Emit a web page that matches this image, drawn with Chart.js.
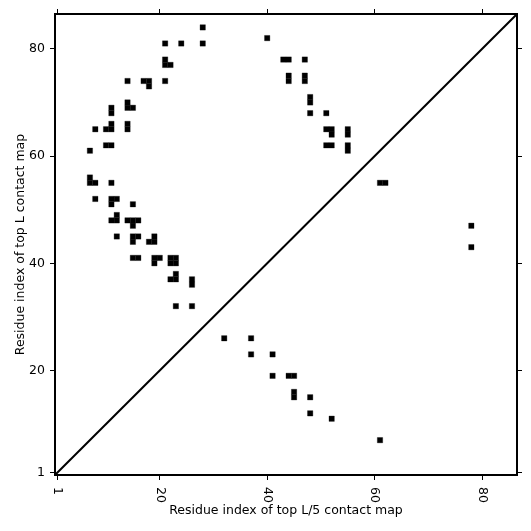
<!DOCTYPE html>
<html>
<head>
<meta charset="utf-8">
<script src="https://cdn.jsdelivr.net/npm/chart.js@4.4.0/dist/chart.umd.min.js"></script>
<style>
html,body{margin:0;padding:0;background:#fff}
</style>
</head>
<body>
<canvas id="myChart" width="531" height="531"></canvas>
<script>
var seqLength = 86
var tickValues = [1, 20, 40, 60, 80]
var xTitle = "Residue index of top L/5 contact map"
var yTitle = "Residue index of top L contact map"

// top L contacts [i, j] with i < j, shown above the diagonal
var topL = [
    [28,84],[40,82],[21,81],[24,81],[28,81],[21,78],[43,78],[44,78],[47,78],
    [21,77],[22,77],[44,75],[47,75],[14,74],[17,74],[18,74],[21,74],[44,74],[47,74],
    [18,73],[48,71],[14,70],[48,70],[11,69],[14,69],[15,69],[11,68],[48,68],[51,68],
    [11,66],[14,66],[8,65],[10,65],[11,65],[14,65],[51,65],[52,65],[55,65],[52,64],[55,64],
    [10,62],[11,62],[51,62],[52,62],[55,62],[7,61],[55,61],[7,56],[7,55],[8,55],[11,55],
    [8,52],[11,52],[12,52],[11,51],[15,51],[12,49],[11,48],[12,48],[14,48],[15,48],[16,48],
    [15,47],[12,45],[15,45],[16,45],[19,45],[15,44],[18,44],[19,44],
    [15,41],[16,41],[19,41],[20,41],[22,41],[23,41],[19,40],[22,40],[23,40],
    [23,38],[22,37],[23,37],[26,37],[26,36],[23,32],[26,32]
]
// top L/5 contacts [i, j] with i < j, shown below the diagonal
var topL5 = [
    [26,32],[26,37],[23,37],[23,41],[19,41],[19,44],[19,45],[16,45],[15,45],
    [15,48],[12,48],[11,52],[7,61],[55,61],[55,62],[47,78],[43,78]
]

var fontSize = 12.5
Chart.defaults.font.family = "'DejaVu Sans', sans-serif"
Chart.defaults.color = "#000"

function setTicks(scale){
    scale.ticks = tickValues.map(function(v){ return {value: v} })
}

function axis(pos, size, extra){
    var a = {
        type: "linear",
        position: pos,
        min: 0.5,
        max: seqLength + 0.5,
        afterBuildTicks: setTicks,
        ticks: {display: false},
        grid: {display: true, drawOnChartArea: false, drawTicks: true, tickLength: 5, color: "#000", lineWidth: 1},
        border: {display: true, color: "#000", width: 2},
        afterFit: function(s){
            if(pos == "top" || pos == "bottom") s.height = size
            else s.width = size
        }
    }
    for(var k in extra) a[k] = extra[k]
    return a
}

// x tick labels turned clockwise, like the reference
var xLabels = {
    id: "xLabels",
    afterDraw: function(chart){
        var ctx = chart.ctx
        var xs = chart.scales.x
        ctx.save()
        ctx.font = fontSize + "px 'DejaVu Sans'"
        ctx.fillStyle = "#000"
        ctx.textAlign = "left"
        ctx.textBaseline = "middle"
        tickValues.forEach(function(v){
            ctx.save()
            ctx.translate(xs.getPixelForValue(v), chart.chartArea.bottom + 12)
            ctx.rotate(Math.PI / 2)
            ctx.fillText(String(v), 0, 0)
            ctx.restore()
        })
        ctx.restore()
    }
}

var ctx = document.getElementById("myChart")
var char = new Chart(ctx, {
    type: "scatter",
    data: {
        datasets: [{
            label: "top L",
            data: topL.map(function(p){ return {x: p[0], y: p[1]} }),
            pointStyle: "rect",
            pointRadius: 3.8,
            pointHoverRadius: 3.8,
            backgroundColor: "#000",
            borderColor: "#000",
            borderWidth: 0.3
        }, {
            label: "top L/5",
            data: topL5.map(function(p){ return {x: p[1], y: p[0]} }),
            pointStyle: "rect",
            pointRadius: 3.8,
            pointHoverRadius: 3.8,
            backgroundColor: "#000",
            borderColor: "#000",
            borderWidth: 0.3
        }, {
            label: "diagonal",
            data: [{x: 0.5, y: 0.5}, {x: seqLength + 0.5, y: seqLength + 0.5}],
            showLine: true,
            borderColor: "#000",
            borderWidth: 2,
            pointRadius: 0
        }]
    },
    options: {
        responsive: false,
        animation: false,
        layout: {padding: 0},
        plugins: {
            legend: {display: false},
            tooltip: {enabled: false}
        },
        scales: {
            x: axis("bottom", 56, {
                title: {display: true, text: xTitle, font: {size: fontSize}, padding: {top: 0, bottom: 13}}
            }),
            x2: axis("top", 14, {}),
            y: axis("left", 55, {
                ticks: {display: true, font: {size: fontSize}, padding: 5},
                title: {display: true, text: yTitle, font: {size: fontSize}, padding: {top: 13, bottom: 0}}
            }),
            y2: axis("right", 14, {})
        }
    },
    plugins: [xLabels]
})
</script>
</body>
</html>
